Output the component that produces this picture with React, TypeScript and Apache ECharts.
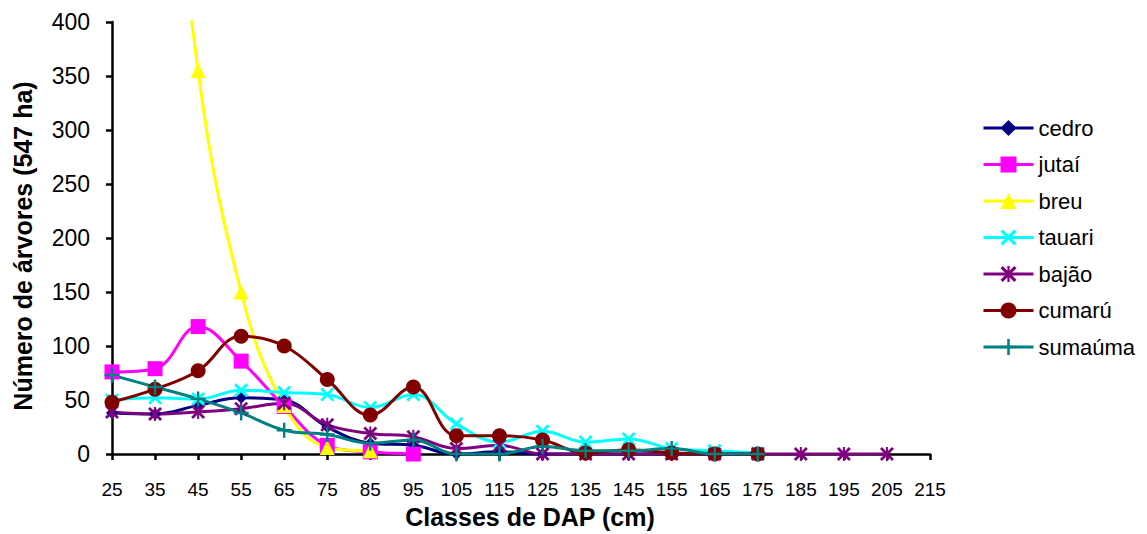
import React, { useEffect, useRef } from "react";
import * as echarts from "echarts";

const categories = ["25","35","45","55","65","75","85","95","105","115","125","135","145","155","165","175","185","195","205","215"];
const cedro = [38,37,45,52,50,25,10,8,0,2,0,0,0,0,0,0];
const jutai = [76,79,118,86,44,8,2,0];
const breu = [1200,750,355,150,45,6,3];
const tauari = [50,52,51,59,57,55,43,55,28,11,21,11,14,5,3,1];
const bajao = [39,37,39,42,47,27,19,16,5,8,0,0,0,0,0,0,0,0,0];
const cumaru = [48,60,77,109,100,69,36,62,17,17,13,1,4,1,0,0];
const sumauma = [73,62,51,38,22,18,10,13,0,0,7,3,3,5,0,0];
const yTicks = [0,50,100,150,200,250,300,350,400];

const X_PATH = "path://M0,14L14,0L100,86L86,100ZM86,0L100,14L14,100L0,86Z";
const STAR_PATH = "path://M0,14L14,0L100,86L86,100ZM86,0L100,14L14,100L0,86ZM43,0L57,0L57,100L43,100Z";
const PLUS_PATH = "path://M42,0L58,0L58,42L100,42L100,58L58,58L58,100L42,100L42,58L0,58L0,42L42,42Z";

const FONT = "'Liberation Sans', Arial, sans-serif";

export default function App() {
  const ref = useRef<HTMLDivElement>(null);
  useEffect(() => {
    document.body.style.margin = "0";
    const chart = echarts.init(ref.current!, null, { renderer: "svg" });
    const mk = (name: string, data: number[], color: string, symbol: string, size: number) => ({
      name,
      type: "line",
      data,
      smooth: 0.4,
      symbol,
      symbolSize: size,
      showAllSymbol: true,
      clip: true,
      lineStyle: { color, width: 3 },
      itemStyle: { color, borderWidth: 0 },
      emphasis: { disabled: true },
    });
    chart.setOption({
      animation: false,
      textStyle: { fontFamily: FONT },
      grid: { left: 112, right: 217, top: 22, bottom: 80, containLabel: false },
      legend: {
        orient: "vertical",
        left: 977,
        top: 111,
        itemWidth: 50,
        itemHeight: 20,
        itemGap: 12.5,
        lineStyle: { width: 3 },
        textStyle: { fontSize: 22, color: "#000", fontFamily: FONT, lineHeight: 24 },
        data: ["cedro","jutaí","breu","tauari","bajão","cumarú","sumaúma"],
      },
      xAxis: {
        type: "category",
        data: categories,
        boundaryGap: false,
        axisLine: { lineStyle: { color: "#000", width: 2.5 } },
        axisTick: { show: true, length: 6, lineStyle: { color: "#000", width: 2.5 }, alignWithLabel: true },
        axisLabel: { fontSize: 19, color: "#000", margin: 26, fontFamily: FONT },
        splitLine: { show: false },
      },
      yAxis: {
        type: "value",
        min: 0,
        max: 400,
        interval: 50,
        axisLine: { show: true, lineStyle: { color: "#000", width: 2.5 } },
        axisTick: { show: true, length: 6, lineStyle: { color: "#000", width: 2.5 } },
        axisLabel: { fontSize: 23, color: "#000", margin: 22, fontFamily: FONT,
          formatter: (v: number) => (yTicks.includes(v) ? String(v) : "") },
        splitLine: { show: false },
      },
      graphic: [
        {
          type: "text",
          x: 23,
          y: 246,
          rotation: Math.PI / 2,
          style: {
            text: "Número de árvores (547 ha)",
            font: `bold 25px ${FONT}`,
            fill: "#000",
            align: "center",
            verticalAlign: "middle",
          },
        },
        {
          type: "text",
          x: 530,
          y: 517,
          style: {
            text: "Classes de DAP (cm)",
            font: `bold 25px ${FONT}`,
            fill: "#000",
            align: "center",
            verticalAlign: "middle",
          },
        },
      ],
      series: [
        mk("cedro", cedro, "#000080", "diamond", 12),
        mk("jutaí", jutai, "#FF00FF", "rect", 15),
        mk("breu", breu, "#FFFF00", "triangle", 15),
        mk("tauari", tauari, "#00FFFF", X_PATH, 14),
        mk("bajão", bajao, "#800080", STAR_PATH, 14),
        mk("cumarú", cumaru, "#800000", "circle", 15),
        mk("sumaúma", sumauma, "#008080", PLUS_PATH, 15),
      ],
    });
    return () => chart.dispose();
  }, []);
  return <div ref={ref} style={{ width: 1147, height: 534 }} />;
}
